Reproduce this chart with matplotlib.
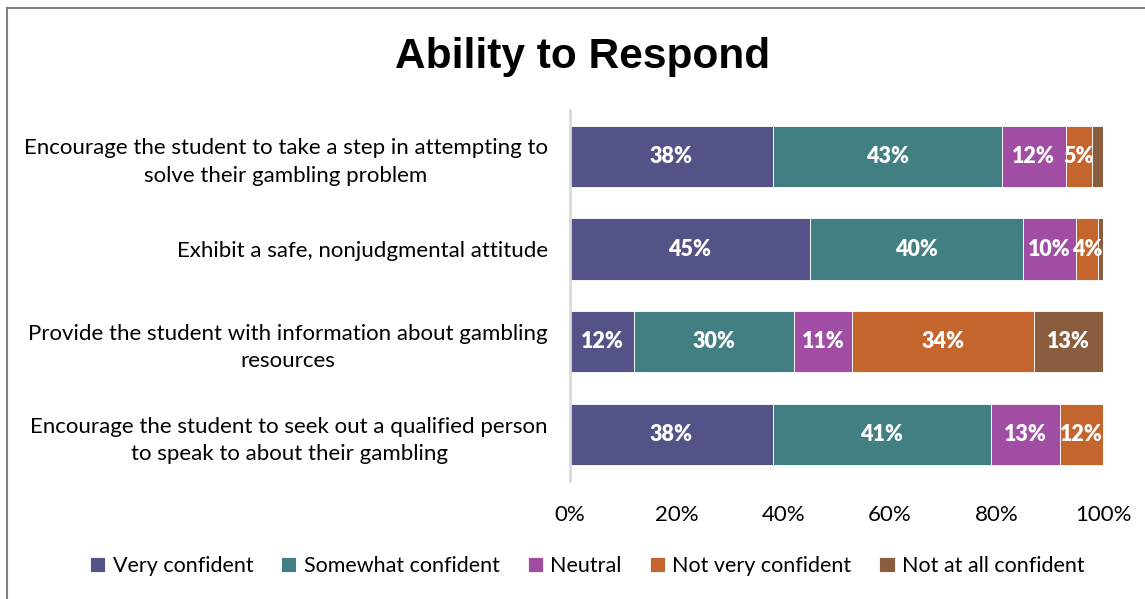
import numpy as np
import matplotlib
matplotlib.use("Agg")
import matplotlib.pyplot as plt
from matplotlib.lines import Line2D

plt.rcParams["font.family"] = ["Lato", "DejaVu Sans"]

# survey items, top to bottom
questions = [
    "Encourage the student to take a step in attempting to\nsolve their gambling problem",
    "Exhibit a safe, nonjudgmental attitude",
    "Provide the student with information about gambling\nresources",
    "Encourage the student to seek out a qualified person\nto speak to about their gambling",
]
levels = ["Very confident", "Somewhat confident", "Neutral",
          "Not very confident", "Not at all confident"]
colors = ["#545388", "#417F82", "#A04DA3", "#C5652E", "#8A5D3E"]

very_confident = [38, 45, 12, 38]
somewhat_confident = [43, 40, 30, 41]
neutral = [12, 10, 11, 13]
not_very_confident = [5, 4, 34, 12]
not_at_all_confident = [2, 1, 13, 0]
# small slivers are drawn without a label
show_label = [
    [True, True, True, True],
    [True, True, True, True],
    [True, True, True, True],
    [True, True, True, True],
    [False, False, True, False],
]

series = [very_confident, somewhat_confident, neutral,
          not_very_confident, not_at_all_confident]

fig = plt.figure(figsize=(11.45, 5.99), dpi=100)
ax = fig.add_axes([0.4978, 0.197, 0.4655, 0.6194])

y = np.arange(len(questions))
left = np.zeros(len(questions))
for vals, col, name, lab in zip(series, colors, levels, show_label):
    v = np.array(vals) / 100.0
    ax.barh(y, v, left=left, height=0.66, color=col, edgecolor="white",
            linewidth=0.6, label=name)
    for i in range(len(y)):
        if lab[i] and vals[i] > 0:
            right = min(left[i] + v[i], 1.0)
            ax.text((left[i] + right) / 2, y[i], f"{vals[i]}%", ha="center",
                    va="center", color="white", fontsize=15.5, fontweight="heavy")
    left += v

ax.set_xlim(0, 1.0)
ax.set_ylim(len(questions) - 0.5, -0.5)
ax.set_xticks(np.linspace(0, 1, 6))
ax.set_xticklabels([f"{int(t * 100)}%" for t in np.linspace(0, 1, 6)], fontsize=16)
ax.set_yticks(y)
ax.set_yticklabels(questions, fontsize=16, linespacing=1.45)
for t in ax.get_yticklabels():
    t.set_multialignment("center")
ax.tick_params(axis="y", length=0, pad=16)
ax.tick_params(axis="x", length=0, pad=17)
for s in ["top", "right", "bottom"]:
    ax.spines[s].set_visible(False)
ax.spines["left"].set_color("#D9D9D9")
ax.spines["left"].set_linewidth(2)

fig.text(0.509, 0.905, "Ability to Respond", ha="center", va="center",
         fontsize=30.5, fontweight="bold", family="Liberation Sans")

handles, labels = ax.get_legend_handles_labels()
fig.legend(handles, labels, loc="center", bbox_to_anchor=(0.513, 0.055), ncol=5,
           frameon=False, fontsize=15.5, handlelength=0.7, handleheight=0.7,
           handletextpad=0.35, columnspacing=1.3)

# chart frame
fig.add_artist(Line2D([7 / 1145, 7 / 1145], [1 - 8 / 599, 0], color="#808080",
                      linewidth=1.5, transform=fig.transFigure))
fig.add_artist(Line2D([7 / 1145, 1], [1 - 8 / 599, 1 - 8 / 599], color="#808080",
                      linewidth=1.5, transform=fig.transFigure))

fig.savefig("out.png", dpi=100)
